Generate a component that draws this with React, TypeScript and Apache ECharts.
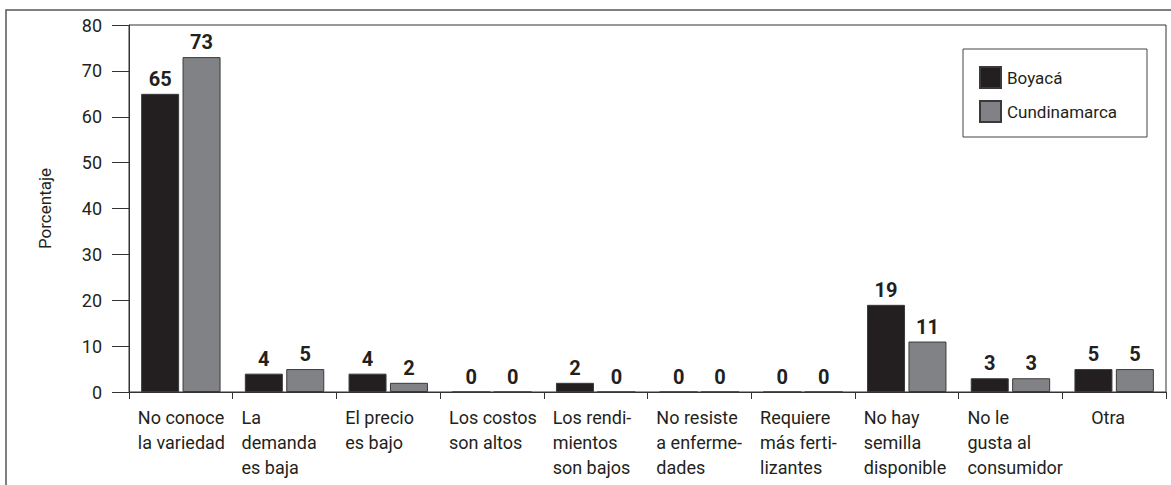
import React, { useEffect, useRef } from "react";
import * as echarts from "echarts";

const categories = [
  "No conoce\nla variedad",
  "La\ndemanda\nes baja",
  "El precio\nes bajo",
  "Los costos\nson altos",
  "Los rendi-\nmientos\nson bajos",
  "No resiste\na enferme-\ndades",
  "Requiere\nmás ferti-\nlizantes",
  "No hay\nsemilla\ndisponible",
  "No le\ngusta al\nconsumidor",
  "Otra",
];
const boyaca = [65, 4, 4, 0, 2, 0, 0, 19, 3, 5];
const cundinamarca = [73, 5, 2, 0, 0, 0, 0, 11, 3, 5];
const seriesNames = ["Boyacá", "Cundinamarca"];
const yTicks = { min: 0, max: 80, interval: 10 };
const yAxisName = "Porcentaje";

const FONT = "Roboto, 'Liberation Sans', sans-serif";

export default function App() {
  const ref = useRef<HTMLDivElement>(null);
  useEffect(() => {
    if (!ref.current) return;
    const chart = echarts.init(ref.current, undefined, { renderer: "svg" });
    const labelStyle = {
      show: true,
      position: "top" as const,
      distance: 5,
      fontFamily: FONT,
      fontWeight: "bold" as const,
      fontSize: 20,
      color: "#231f20",
    };
    chart.setOption({
      animation: false,
      backgroundColor: "#ffffff",
      textStyle: { fontFamily: FONT },
      graphic: [
        {
          type: "rect",
          shape: { x: 6, y: 10, width: 1200, height: 520 },
          style: { fill: "none", stroke: "#555", lineWidth: 1.5 },
          silent: true,
        },
        {
          type: "rect",
          shape: { x: 963, y: 49, width: 184, height: 88 },
          style: { fill: "#fff", stroke: "#444", lineWidth: 1 },
          z: 10,
          silent: true,
        },
      ],
      legend: {
        left: 979,
        top: 66,
        orient: "vertical",
        padding: 0,
        itemWidth: 21,
        itemHeight: 21,
        itemGap: 11,
        icon: "rect",
        z: 20,
        textStyle: { fontFamily: FONT, fontSize: 17, color: "#231f20", padding: [0, 0, 0, 1] },
        data: seriesNames,
      },
      grid: {
        left: 129,
        right: 5,
        top: 25,
        bottom: 93,
        show: true,
        borderColor: "#333",
        borderWidth: 1,
        containLabel: false,
      },
      xAxis: {
        type: "category",
        data: categories,
        axisLine: { lineStyle: { color: "#333", width: 1 } },
        axisTick: { show: true, length: 7, inside: false, lineStyle: { color: "#333" } },
        splitLine: { show: false },
        axisLabel: {
          interval: 0,
          margin: 13,
          color: "#231f20",
          fontFamily: FONT,
          fontSize: 18,
          lineHeight: 25,
          formatter: (v: string) => {
            const key = v.indexOf("\n") < 0 ? "b" : "a";
            return v
              .split("\n")
              .map((l) => `{${key}|${l}}`)
              .join("\n");
          },
          rich: {
            a: {
              width: 86,
              align: "left",
              fontFamily: FONT,
              fontSize: 18,
              lineHeight: 25,
              color: "#231f20",
            },
            b: {
              width: 46,
              align: "left",
              fontFamily: FONT,
              fontSize: 18,
              lineHeight: 25,
              color: "#231f20",
            },
          },
        },
      },
      yAxis: {
        type: "value",
        min: yTicks.min,
        max: yTicks.max,
        interval: yTicks.interval,
        name: yAxisName,
        nameLocation: "middle",
        nameGap: 76,
        nameTextStyle: { fontFamily: FONT, fontSize: 17, color: "#231f20" },
        axisLine: { show: true, lineStyle: { color: "#333", width: 1 } },
        axisTick: { show: true, length: 17, inside: false, lineStyle: { color: "#333" } },
        splitLine: { show: false },
        axisLabel: {
          margin: 27,
          color: "#231f20",
          fontFamily: FONT,
          fontSize: 18,
        },
      },
      series: [
        {
          name: seriesNames[0],
          type: "bar",
          data: boyaca,
          barWidth: 38,
          barGap: "9%",
          itemStyle: { color: "#231f20", borderColor: "#3a3a3a", borderWidth: 1 },
          label: labelStyle,
        },
        {
          name: seriesNames[1],
          type: "bar",
          data: cundinamarca,
          barWidth: 38,
          barGap: "9%",
          itemStyle: { color: "#808285", borderColor: "#3a3a3a", borderWidth: 1 },
          label: labelStyle,
        },
      ],
    });
    return () => chart.dispose();
  }, []);
  return (
    <div
      ref={ref}
      style={{ position: "fixed", left: 0, top: 0, width: 1171, height: 485 }}
    />
  );
}
